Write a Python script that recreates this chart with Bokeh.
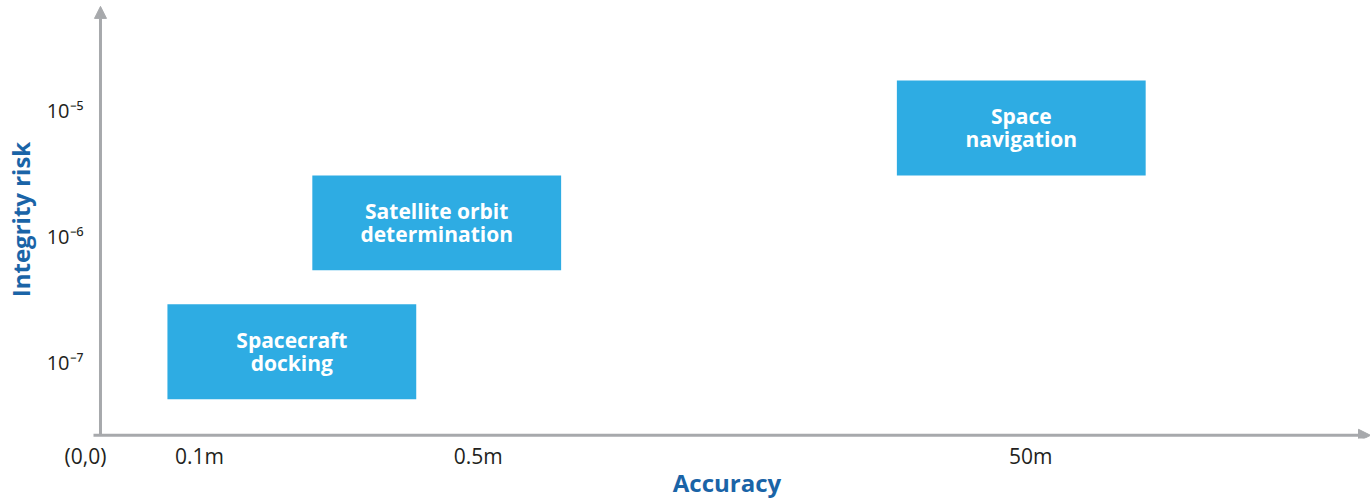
from bokeh.plotting import figure
from bokeh.models import Range1d, FixedTicker, Arrow, NormalHead
from bokeh.core.properties import value
from bokeh.embed import file_html
from bokeh.resources import INLINE
import numpy as np

# ---- data ----
x_ticks = [-15, 99, 378, 931]
x_tick_labels = ["(0,0)", "0.1m", "0.5m", "50m"]
y_ticks = [1e-7, 1e-6, 1e-5]
y_tick_labels = ["10\u207b\u2077", "10\u207b\u2076", "10\u207b\u2075"]

apps = ["Spacecraft\ndocking", "Satellite orbit\ndetermination", "Space\nnavigation"]
acc_left = [67, 212, 797]
acc_right = [316, 461, 1046]
risk_low = [5.1e-8, 5.4e-7, 3.05e-6]
risk_high = [2.9e-7, 3.05e-6, 1.73e-5]

x_min, x_max = -17, 1271
y_min, y_max = 2.49e-8, 7.46e-5
axis_y = 2.64e-8
axis_y_top = 6.7e-5
axis_x_start = -7

BOX = "#2eace3"
AXIS = "#a7a9ac"
LABEL = "#1a64a7"
TEXT = "#231f20"
FONT = "Open Sans"

p = figure(width=1370, height=502, output_backend="svg", toolbar_location=None,
           y_axis_type="log",
           x_range=Range1d(x_min, x_max), y_range=Range1d(y_min, y_max),
           min_border_left=82, min_border_right=0, min_border_top=0,
           min_border_bottom=64)
p.outline_line_color = None
p.grid.visible = False
p.background_fill_color = "white"
p.border_fill_color = "white"

# boxes
p.quad(left=acc_left, right=acc_right, bottom=risk_low, top=risk_high,
       fill_color=BOX, line_color=None)
cx = [(a + b) / 2 for a, b in zip(acc_left, acc_right)]
cy = [float(np.sqrt(a * b)) for a, b in zip(risk_low, risk_high)]
p.text(x=cx, y=cy, text=apps, text_align="center", text_baseline="middle",
       text_font=value(FONT), text_font_style="bold", text_font_size="21px",
       text_color="white", text_line_height=0.82)

# axis lines with arrows
p.add_layout(Arrow(end=NormalHead(size=12, fill_color=AXIS, line_color=AXIS),
                   x_start=0, y_start=axis_y, x_end=0, y_end=axis_y_top,
                   line_color=AXIS, line_width=3))
p.add_layout(Arrow(end=NormalHead(size=12, fill_color=AXIS, line_color=AXIS),
                   x_start=axis_x_start, y_start=axis_y, x_end=x_max, y_end=axis_y,
                   line_color=AXIS, line_width=3))

# axes
for ax in (p.xaxis[0], p.yaxis[0]):
    ax.axis_line_color = None
    ax.major_tick_line_color = None
    ax.minor_tick_line_color = None
    ax.major_tick_out = 0
    ax.major_tick_in = 0
    ax.major_label_text_font = FONT
    ax.major_label_text_color = TEXT
    ax.axis_label_text_font = FONT
    ax.axis_label_text_font_style = "bold"
    ax.axis_label_text_color = LABEL
    ax.axis_label_text_font_size = "24px"

p.xaxis.ticker = FixedTicker(ticks=x_ticks)
p.xaxis.major_label_overrides = dict(zip(x_ticks, x_tick_labels))
p.xaxis.major_label_text_font_size = "21px"
p.xaxis.major_label_standoff = 3
p.xaxis.axis_label = "Accuracy"
p.xaxis.axis_label_standoff = -7

p.yaxis.ticker = FixedTicker(ticks=y_ticks)
p.yaxis.major_label_overrides = dict(zip(y_ticks, y_tick_labels))
p.yaxis.major_label_text_font_size = "20px"
p.yaxis.major_label_standoff = 0
p.yaxis.axis_label = "Integrity risk"
p.yaxis.axis_label_standoff = 7

open("out.html", "w").write(file_html(p, INLINE))
